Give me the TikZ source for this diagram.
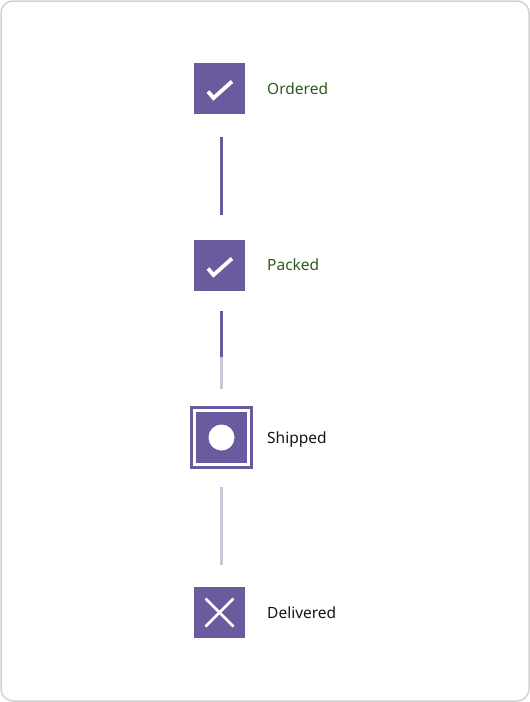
\documentclass[tikz,border=0pt]{standalone}
\usepackage{fontspec}
\setmainfont{Noto Sans}
\begin{document}
\begin{tikzpicture}[x=1pt,y=-1pt,
  stepbox/.style={fill=purp, draw=none, minimum size=51pt, inner sep=0pt, outer sep=0pt},
  ringbox/.style={fill=purp, draw=purp, line width=3pt, double=white, double distance=2.5pt, minimum size=54pt, inner sep=0pt},
  lbl/.style={anchor=base west, font=\fontsize{15.5pt}{17pt}\selectfont, inner sep=0pt},
  done/.style={lbl, text=donegreen},
  todo/.style={lbl, text=textblack},
  seg/.style={line width=3pt}]
\definecolor{purp}{HTML}{6A5A9E}
\definecolor{pale}{HTML}{CCC6D8}
\definecolor{donegreen}{HTML}{2E5A1C}
\definecolor{textblack}{HTML}{141414}
\definecolor{frame}{HTML}{D2D2D2}
\useasboundingbox (0,0) rectangle (530,702);
\draw[frame, line width=1.5pt, rounded corners=12pt] (1,1) rectangle (529,701);

\node[stepbox] (b1) at (219.5,88.5) {};
\node[stepbox] (b2) at (219.5,265.5) {};
\node[ringbox] (b3) at (221.5,437.5) {};
\node[stepbox] (b4) at (219.5,612.5) {};

\node[done] (t1) at (267,94) {Ordered};
\node[done] (t2) at (267,270.5) {Packed};
\node[todo] (t3) at (267,443.5) {Shipped};
\node[todo] (t4) at (267,618) {Delivered};

% check marks
\draw[white, line width=3.8pt, line cap=butt, line join=miter] ([shift={(-11.5,3)}]b1.center) -- ([shift={(-6,9.5)}]b1.center) -- ([shift={(12.5,-7)}]b1.center);
\draw[white, line width=3.8pt, line cap=butt, line join=miter] ([shift={(-11.5,3)}]b2.center) -- ([shift={(-6,9.5)}]b2.center) -- ([shift={(12.5,-7)}]b2.center);
% dot
\fill[white] (b3.center) circle (13pt);
% cross
\draw[white, line width=2.6pt] ([shift={(-14,-14)}]b4.center) -- ([shift={(14,14)}]b4.center);
\draw[white, line width=2.6pt] ([shift={(14,-14)}]b4.center) -- ([shift={(-14,14)}]b4.center);

% connectors
\coordinate (c1a) at (221,137);
\coordinate (c1b) at (221,215);
\coordinate (c2a) at (221,311);
\coordinate (c2m) at (221,357);
\coordinate (c2b) at (221,389);
\coordinate (c3a) at (221,487);
\coordinate (c3b) at (221,565);
\draw[seg, purp] (c1a) -- (c1b);
\draw[seg, pale] (c2m) -- (c2b);
\draw[seg, purp] (c2a) -- (c2m);
\draw[seg, pale] (c3a) -- (c3b);
\end{tikzpicture}
\end{document}
